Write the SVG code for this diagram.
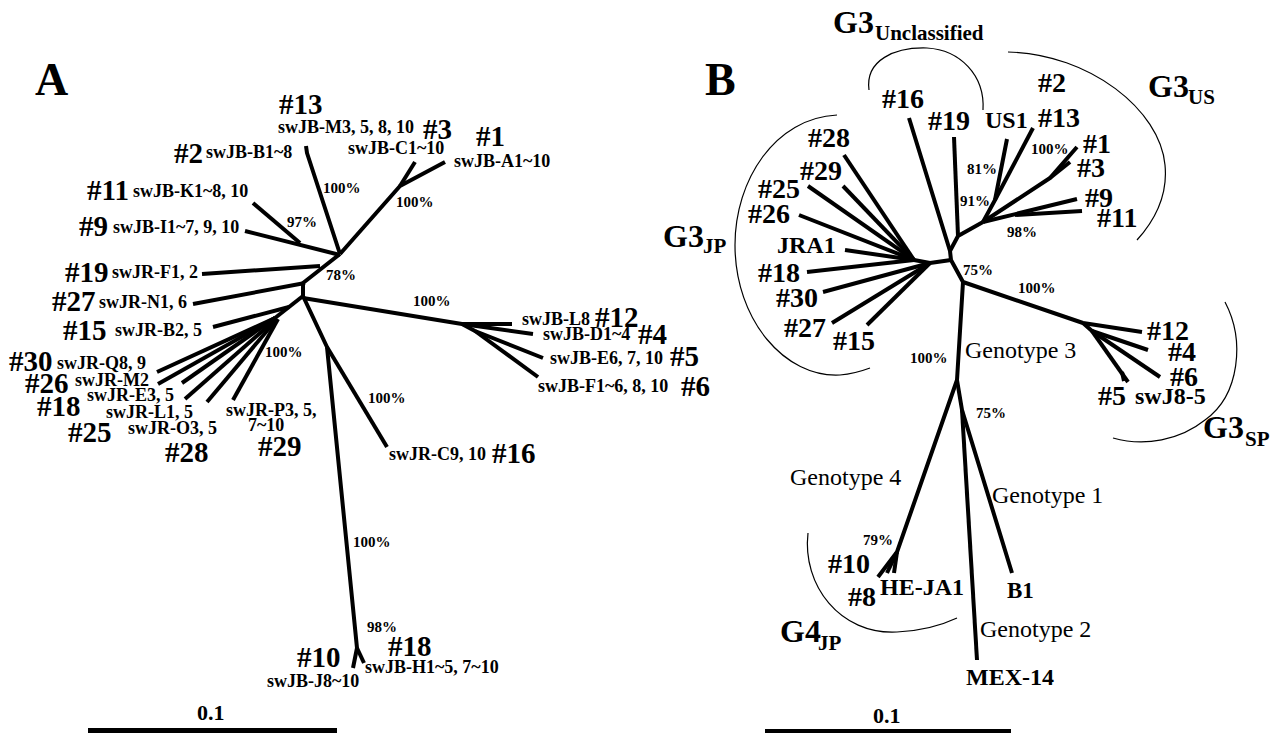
<svg xmlns="http://www.w3.org/2000/svg" width="1276" height="734" viewBox="0 0 1276 734">
<style>
text{font-family:"Liberation Serif","Times New Roman",serif;font-weight:bold;fill:#000}
.big{font-size:46px}
.h{font-size:29px}
.hb{font-size:28px}
.s{font-size:18px}
.p{font-size:15px}
.n{font-size:24px}
.g{font-size:24px;font-weight:normal}
.G{font-size:32px}
.sub{font-size:21px}
.sc{font-size:22px}
.br path{stroke:#000;stroke-width:4;fill:none;stroke-linejoin:round}
.arc path{stroke:#000;stroke-width:1.2;fill:none}
</style>
<rect width="1276" height="734" fill="#fff"/>
<g id="connectors" class="br">
<path d="M306,146 L307,153 L340,254"/>
<path d="M340,254 L400,186 L445,162"/>
<path d="M400,186 L415,162"/>
<path d="M245,231 L340,255"/>
<path d="M253,203 L300,243"/>
<path d="M340,254 L303,283 L303,296"/>
<path d="M202,274 L320,266"/>
<path d="M193,304 L305,283"/>
<path d="M303,296 L275,318"/>
<path d="M213,327 L289,307"/>
<path d="M275,318 L157,372"/>
<path d="M275,318 L158,384"/>
<path d="M275,318 L182,383"/>
<path d="M276,319 L185,399"/>
<path d="M277,319 L207,402"/>
<path d="M278,319 L233,400"/>
<path d="M303,298 L462,324 L512,324"/>
<path d="M462,324 L533,334"/>
<path d="M462,324 L475,331 L543,358"/>
<path d="M475,331 L538,377"/>
<path d="M303,296 L327,347 L357,648 L353,668"/>
<path d="M327,347 L387,447"/>
<path d="M357,648 L364,663"/>
<path d="M909,118 L950,251 L951,260"/>
<path d="M950,251 L958,236 L983,222"/>
<path d="M954,137 L958,236"/>
<path d="M983,222 L995,200 L1007,139"/>
<path d="M995,200 L1033,128"/>
<path d="M983,222 L1050,178 L1077,147"/>
<path d="M1050,178 L1070,162"/>
<path d="M983,222 L1077,199"/>
<path d="M1015,215 L1082,211"/>
<path d="M951,260 L930,263 L914,260"/>
<path d="M914,260 L844,155"/>
<path d="M914,260 L843,186"/>
<path d="M914,260 L808,186"/>
<path d="M914,260 L799,215"/>
<path d="M914,260 L845,250"/>
<path d="M914,260 L807,272"/>
<path d="M930,263 L823,292"/>
<path d="M930,263 L832,323"/>
<path d="M930,263 L867,325"/>
<path d="M951,260 L963,282 L1083,323 L1142,332"/>
<path d="M1083,323 L1092,331 L1148,350"/>
<path d="M1092,331 L1160,377"/>
<path d="M1092,331 L1128,382"/>
<path d="M1122,372 L1124,381"/>
<path d="M963,282 L957,380 L897,552 L878,577"/>
<path d="M897,552 L887,573"/>
<path d="M897,552 L894,573"/>
<path d="M957,380 L962,410 L1012,573"/>
<path d="M962,410 L977,660"/>
</g>
<g id="brackets" class="arc">
<path d="M869,90 C865,60 895,47 927,48 C960,50 985,75 983,110"/>
<path d="M1008,52 C1090,54 1160,110 1165,165 C1168,195 1155,220 1137,240"/>
<path d="M837,115 C775,118 735,180 735,245 C735,320 785,378 840,375 C852,374 862,371 870,368"/>
<path d="M1225,302 C1245,340 1240,395 1205,420 C1180,440 1145,447 1113,438"/>
<path d="M808,533 C802,585 840,635 897,632 C920,631 940,626 957,618"/>
</g>
<g id="scalebars">
<rect x="88" y="728" width="249" height="5" fill="#000"/>
<rect x="765" y="729" width="246" height="4" fill="#000"/>
<text class="sc" x="197" y="720">0.1</text>
<text class="sc" x="873" y="723">0.1</text>
</g>
<g id="panelA-labels">
<text class="big" x="35" y="95">A</text>
<text class="p" x="323" y="193">100%</text>
<text class="p" x="396" y="207">100%</text>
<text class="p" x="287" y="227">97%</text>
<text class="p" x="326" y="280">78%</text>
<text class="p" x="265" y="357">100%</text>
<text class="p" x="413" y="306">100%</text>
<text class="p" x="368" y="403">100%</text>
<text class="p" x="353" y="547">100%</text>
<text class="p" x="367" y="632">98%</text>
</g>
<g id="A13"><text class="h" x="279" y="114">#13</text><text class="s" x="278" y="133">swJB-M3, 5, 8, 10</text></g>
<g id="A3"><text class="h" x="423" y="139">#3</text><text class="s" x="348" y="154">swJB-C1~10</text></g>
<g id="A1"><text class="h" x="476" y="146">#1</text><text class="s" x="454" y="167">swJB-A1~10</text></g>
<g id="A2"><text class="h" x="174" y="163">#2</text><text class="s" x="206" y="158">swJB-B1~8</text></g>
<g id="A11"><text class="h" x="87" y="200">#11</text><text class="s" x="133" y="197">swJB-K1~8, 10</text></g>
<g id="A9"><text class="h" x="79" y="236">#9</text><text class="s" x="113" y="233">swJB-I1~7, 9, 10</text></g>
<g id="A19"><text class="h" x="65" y="282">#19</text><text class="s" x="112" y="278">swJR-F1, 2</text></g>
<g id="A27"><text class="h" x="52" y="311">#27</text><text class="s" x="99" y="308">swJR-N1, 6</text></g>
<g id="A15"><text class="h" x="63" y="340">#15</text><text class="s" x="115" y="336">swJR-B2, 5</text></g>
<g id="A30"><text class="h" x="9" y="371">#30</text><text class="s" x="57" y="369">swJR-Q8, 9</text></g>
<g id="A26"><text class="h" x="25" y="393">#26</text><text class="s" x="75" y="386">swJR-M2</text></g>
<g id="A18"><text class="h" x="37" y="416">#18</text><text class="s" x="87" y="401">swJR-E3, 5</text></g>
<g id="A25"><text class="h" x="68" y="442">#25</text><text class="s" x="106" y="418">swJR-L1, 5</text></g>
<g id="A28"><text class="h" x="165" y="462">#28</text><text class="s" x="128" y="434">swJR-O3, 5</text></g>
<g id="A29"><text class="h" x="258" y="456">#29</text><text class="s" x="226" y="416">swJR-P3, 5,</text><text class="s" x="248" y="431">7~10</text></g>
<g id="A12"><text class="s" x="522" y="325">swJB-L8</text><text class="h" x="595" y="327">#12</text></g>
<g id="A4"><text class="s" x="543" y="340">swJB-D1~4</text><text class="h" x="638" y="344">#4</text></g>
<g id="A5"><text class="s" x="550" y="364">swJB-E6, 7, 10</text><text class="h" x="670" y="366">#5</text></g>
<g id="A6"><text class="s" x="538" y="392">swJB-F1~6, 8, 10</text><text class="h" x="681" y="396">#6</text></g>
<g id="A16"><text class="s" x="389" y="460">swJR-C9, 10</text><text class="h" x="492" y="463">#16</text></g>
<g id="A18b"><text class="h" x="388" y="656">#18</text><text class="s" x="365" y="673">swJB-H1~5, 7~10</text></g>
<g id="A10"><text class="h" x="297" y="667">#10</text><text class="s" x="267" y="687">swJB-J8~10</text></g>
<g id="panelB-labels">
<text class="big" x="705" y="95">B</text>
<text class="p" x="1031" y="154">100%</text>
<text class="p" x="967" y="174">81%</text>
<text class="p" x="960" y="206">91%</text>
<text class="p" x="1007" y="237">98%</text>
<text class="p" x="963" y="275">75%</text>
<text class="p" x="1018" y="293">100%</text>
<text class="p" x="910" y="363">100%</text>
<text class="p" x="976" y="418">75%</text>
<text class="p" x="863" y="545">79%</text>
<text class="g" x="965" y="358">Genotype 3</text>
<text class="g" x="790" y="485">Genotype 4</text>
<text class="g" x="992" y="503">Genotype 1</text>
<text class="g" x="980" y="637">Genotype 2</text>
</g>
<g id="G3U"><text class="G" x="833" y="33">G3</text><text class="sub" x="875" y="40">Unclassified</text></g>
<g id="G3US"><text class="G" x="1148" y="97">G3</text><text class="sub" x="1188" y="104">US</text></g>
<g id="G3JP"><text class="G" x="663" y="247">G3</text><text class="sub" x="703" y="253">JP</text></g>
<g id="G3SP"><text class="G" x="1203" y="438">G3</text><text class="sub" x="1245" y="446">SP</text></g>
<g id="G4JP"><text class="G" x="780" y="642">G4</text><text class="sub" x="818" y="650">JP</text></g>
<g id="B16"><text class="hb" x="882" y="108">#16</text></g>
<g id="B19"><text class="hb" x="928" y="130">#19</text></g>
<g id="BUS1"><text class="n" x="985" y="128">US1</text></g>
<g id="B2"><text class="hb" x="1038" y="92">#2</text></g>
<g id="B13"><text class="hb" x="1038" y="127">#13</text></g>
<g id="B1n"><text class="hb" x="1083" y="153">#1</text></g>
<g id="B3"><text class="hb" x="1077" y="177">#3</text></g>
<g id="B9"><text class="hb" x="1085" y="207">#9</text></g>
<g id="B11"><text class="hb" x="1097" y="227">#11</text></g>
<g id="B28"><text class="hb" x="808" y="147">#28</text></g>
<g id="B29"><text class="hb" x="800" y="180">#29</text></g>
<g id="B25"><text class="hb" x="758" y="198">#25</text></g>
<g id="B26"><text class="hb" x="748" y="223">#26</text></g>
<g id="BJRA1"><text class="n" x="777" y="253">JRA1</text></g>
<g id="B18"><text class="hb" x="758" y="282">#18</text></g>
<g id="B30"><text class="hb" x="776" y="307">#30</text></g>
<g id="B27"><text class="hb" x="784" y="337">#27</text></g>
<g id="B15"><text class="hb" x="833" y="350">#15</text></g>
<g id="B12"><text class="hb" x="1147" y="340">#12</text></g>
<g id="B4"><text class="hb" x="1168" y="361">#4</text></g>
<g id="B6"><text class="hb" x="1170" y="386">#6</text></g>
<g id="B5"><text class="hb" x="1098" y="405">#5</text><text class="n" x="1135" y="404">swJ8-5</text></g>
<g id="B10"><text class="hb" x="828" y="573">#10</text></g>
<g id="B8"><text class="hb" x="848" y="606">#8</text></g>
<g id="BHEJA1"><text class="n" x="880" y="595">HE-JA1</text></g>
<g id="BB1"><text class="n" x="1007" y="598" style="font-size:23px">B1</text></g>
<g id="BMEX14"><text class="n" x="966" y="685">MEX-14</text></g>
</svg>
